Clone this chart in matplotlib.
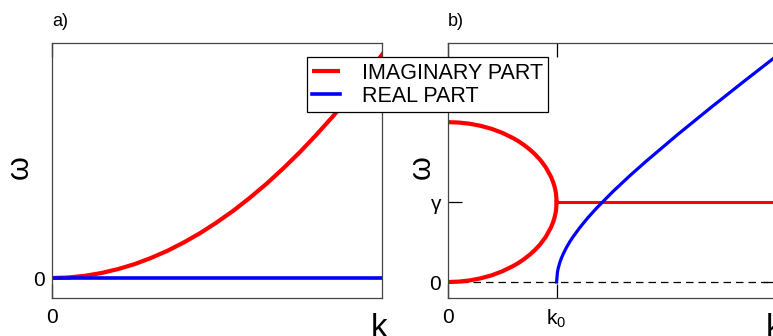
import numpy as np
import matplotlib.pyplot as plt

plt.rcParams['font.family'] = ['Liberation Sans', 'DejaVu Sans']

# a) growth of the imaginary part, real part stays at zero
k_a = [0, 0.05, 0.1, 0.15, 0.2, 0.25, 0.3, 0.35, 0.4, 0.45, 0.5, 0.55,
       0.6, 0.65, 0.7, 0.75, 0.8, 0.85, 0.9, 0.95, 1.0, 1.05]
im_a = [0, 0.0024, 0.0095, 0.0214, 0.038, 0.059, 0.0855, 0.116, 0.152,
        0.192, 0.2375, 0.287, 0.342, 0.401, 0.4655, 0.534, 0.608, 0.686,
        0.7695, 0.857, 0.95, 1.047]
re_a = [0] * len(k_a)

# b) two imaginary branches merge at k0, real part opens up after it
k0 = 0.33
gamma = 1.0
k_branch = [0, 0.033, 0.066, 0.099, 0.132, 0.165, 0.198, 0.2145, 0.231,
            0.2475, 0.264, 0.2805, 0.297, 0.3135, 0.3201, 0.3234, 0.3267,
            0.3284, 0.33]
im_upper = [2.0, 1.995, 1.98, 1.954, 1.917, 1.866, 1.8, 1.76, 1.714,
            1.661, 1.6, 1.527, 1.436, 1.312, 1.243, 1.199, 1.141, 1.1, 1.0]
im_lower = [0.0, 0.005, 0.02, 0.046, 0.083, 0.134, 0.2, 0.24, 0.286,
            0.339, 0.4, 0.473, 0.564, 0.688, 0.757, 0.801, 0.859, 0.9, 1.0]
k_flat = [0.33, 1.0]
im_flat = [1.0, 1.0]
k_re = [0.33, 0.3325, 0.335, 0.34, 0.345, 0.35, 0.36, 0.37, 0.38, 0.4,
        0.425, 0.45, 0.5, 0.55, 0.6, 0.7, 0.8, 0.9, 1.0]
re_b = [0, 0.122, 0.173, 0.247, 0.302, 0.35, 0.432, 0.503, 0.565, 0.678,
        0.804, 0.918, 1.127, 1.32, 1.503, 1.852, 2.186, 2.512, 2.832]

RED = '#ff0000'
BLUE = '#0000ff'
SPINE = '#444444'

fig = plt.figure(figsize=(7.73, 3.36), dpi=100)
ax1 = fig.add_axes([0.0673, 0.1131, 0.4269, 0.7589])
ax2 = fig.add_axes([0.5796, 0.1131, 0.4256, 0.7589])

for ax in (ax1, ax2):
    for s in ax.spines.values():
        s.set_color(SPINE)
        s.set_linewidth(0.9)
    ax.tick_params(direction='in', length=10, width=0.9, color='black',
                   labelsize=15, top=True, right=True, pad=5)
    ax.tick_params(axis='x', pad=7)
    ax.set_xlim(0, 1)
    ax.text(0.99, -0.06, 'k', transform=ax.transAxes, ha='center', va='top',
            fontsize=24)

# panel a
l_im, = ax1.plot(k_a, im_a, color=RED, lw=3, solid_capstyle='butt')
l_re, = ax1.plot(k_a, re_a, color=BLUE, lw=2.6)
ax1.set_ylim(-0.085, 1.0)
ax1.set_xticks([0])
ax1.set_yticks([0])
ax1.set_xticklabels(['0'])
ax1.set_yticklabels(['0'])
ax1.text(-0.097, 0.514, 'ω', transform=ax1.transAxes, rotation=90,
         ha='center', va='center', fontsize=22)
ax1.text(0.0, 1.05, 'a)', transform=ax1.transAxes, ha='left', va='bottom',
         fontsize=13)

# panel b
ax2.axhline(0, color='black', lw=0.9, ls=(0, (6, 4)), zorder=1)
ax2.plot(k_branch, im_upper, color=RED, lw=3)
ax2.plot(k_branch, im_lower, color=RED, lw=3)
ax2.plot(k_flat, im_flat, color=RED, lw=2.2)
ax2.plot(k_re, re_b, color=BLUE, lw=2.3)
ax2.set_ylim(-0.2, 2.99)
ax2.set_xticks([0, k0])
ax2.set_xticklabels(['0', '$\\mathregular{k_0}$'])
ax2.set_yticks([0, gamma])
ax2.set_yticklabels(['0', 'γ'])
ax2.text(-0.079, 0.514, 'ω', transform=ax2.transAxes, rotation=90,
         ha='center', va='center', fontsize=22)
ax2.text(0.0, 1.05, 'b)', transform=ax2.transAxes, ha='left', va='bottom',
         fontsize=13)

leg = fig.legend([l_im, l_re], ['IMAGINARY PART', 'REAL PART'],
                 loc='upper left', bbox_to_anchor=(0.397, 0.830),
                 borderaxespad=0, fontsize=15.5, fancybox=False,
                 handlelength=1.3, handletextpad=1.0, labelspacing=0.1,
                 borderpad=0.25, framealpha=1)
leg.get_frame().set_edgecolor('black')
leg.get_frame().set_linewidth(0.9)

fig.savefig('out.png', dpi=100)
